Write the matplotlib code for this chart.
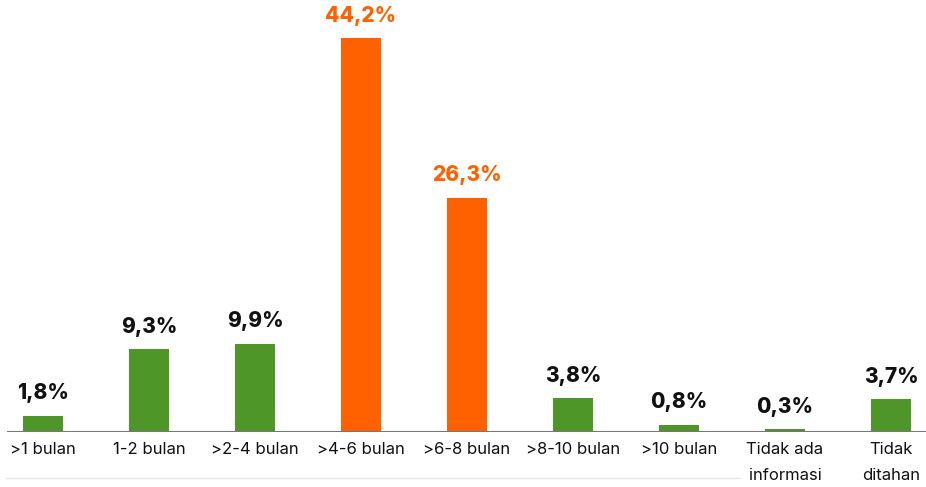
import matplotlib.pyplot as plt
import numpy as np

plt.rcParams['font.family'] = ['Inter', 'DejaVu Sans']

categories = ['>1 bulan', '1-2 bulan', '>2-4 bulan', '>4-6 bulan', '>6-8 bulan',
              '>8-10 bulan', '>10 bulan', 'Tidak ada\ninformasi', 'Tidak\nditahan']
values = [1.8, 9.3, 9.9, 44.2, 26.3, 3.8, 0.8, 0.3, 3.7]
highlight = [False, False, False, True, True, False, False, False, False]

green = '#4e9628'
orange = '#ff6000'

fig = plt.figure(figsize=(9.26, 4.87), dpi=100)
ax = fig.add_axes([0, 55 / 487, 1, 432 / 487])

x = np.arange(len(values))
colors = [orange if h else green for h in highlight]
ax.bar(x, values, width=0.38, color=colors, zorder=2)

for xi, v, h in zip(x, values, highlight):
    ax.annotate(f'{v:.1f}%'.replace('.', ','), (xi, v), xytext=(0, 9),
                textcoords='offset points', ha='center', va='bottom',
                fontsize=15, fontweight='heavy',
                color=orange if h else '#111111')

ax.set_xlim(-43 / 106, (926 - 43) / 106)
ax.set_ylim(0, 432 / 8.91)
ax.axhline(0, xmin=8 / 926, color='#777777', lw=1.5, zorder=3)

for s in ax.spines.values():
    s.set_visible(False)
ax.set_yticks([])
ax.set_xticks(x)
ax.set_xticklabels(categories, fontsize=12, color='#111111', linespacing=1.9)
ax.tick_params(axis='x', length=0, pad=7)

# faint rule at the bottom
fig.add_artist(plt.Line2D([6 / 926, 740 / 926], [9 / 487, 9 / 487],
                          color='#e6e6e6', lw=1))

fig.savefig('out.png', dpi=100)
